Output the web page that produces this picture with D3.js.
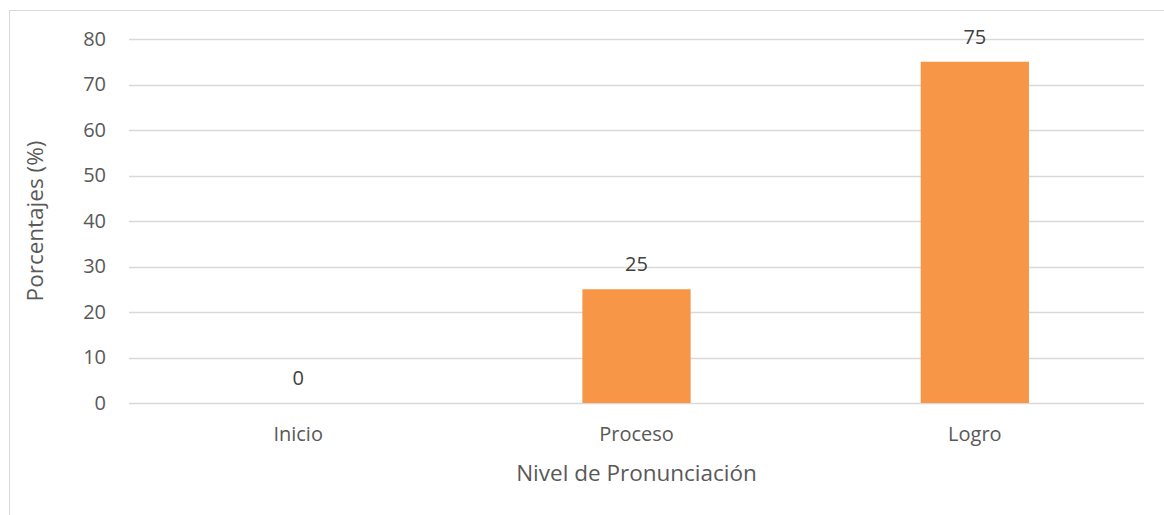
<!DOCTYPE html>
<html>
<head>
<meta charset="utf-8">
<script src="https://cdn.jsdelivr.net/npm/d3@7"></script>
<style>
  body { margin: 0; background: #fff; }
  svg { display: block; font-family: "Open Sans", sans-serif; }
</style>
</head>
<body>
<script>
const categories = ['Inicio', 'Proceso', 'Logro'];
const values = [0, 25, 75];
const yTicks = [0, 10, 20, 30, 40, 50, 60, 70, 80];

const w = 1164, h = 515;
const plotLeft = 129, plotRight = 1144, plotTop = 39, plotBottom = 403;

const svg = d3.select('body').append('svg')
  .attr('width', w)
  .attr('height', h);

// chart border
svg.append('rect')
  .attr('x', 9.5).attr('y', 10.5)
  .attr('width', w).attr('height', h)
  .attr('fill', 'none')
  .attr('stroke', '#d9d9d9');

const x = d3.scaleBand().domain(categories).range([plotLeft, plotRight]).paddingInner(0.68).paddingOuter(0.34);
const y = d3.scaleLinear().domain([0, 80]).range([plotBottom, plotTop]);

// gridlines
svg.append('g').selectAll('line')
  .data(yTicks)
  .enter().append('line')
  .attr('x1', plotLeft).attr('x2', plotRight)
  .attr('y1', d => Math.round(y(d)) + 0.5)
  .attr('y2', d => Math.round(y(d)) + 0.5)
  .attr('stroke', '#d9d9d9')
  .attr('stroke-width', 1.5);

// y axis labels
const yAxis = d3.axisLeft(y).tickValues(yTicks).tickSize(0).tickPadding(23);
const gy = svg.append('g').attr('transform', 'translate(' + plotLeft + ',0)').call(yAxis);
gy.select('.domain').remove();
gy.selectAll('text').attr('fill', '#595959').style('font-size', '20px').style('font-family', '"Open Sans", sans-serif');

// bars
svg.selectAll('rect.bar')
  .data(values)
  .enter().append('rect')
  .attr('class', 'bar')
  .attr('x', (d, i) => x(categories[i]))
  .attr('y', d => y(d))
  .attr('width', x.bandwidth())
  .attr('height', d => y(0) - y(d))
  .attr('fill', '#f79646');

// value labels
svg.selectAll('text.val')
  .data(values)
  .enter().append('text')
  .attr('class', 'val')
  .attr('x', (d, i) => x(categories[i]) + x.bandwidth() / 2)
  .attr('y', d => y(d) - 18)
  .attr('text-anchor', 'middle')
  .attr('fill', '#404040')
  .style('font-size', '20px')
  .text(d => d);

// x axis labels
const xAxis = d3.axisBottom(x).tickSize(0).tickPadding(24);
const gx = svg.append('g').attr('transform', 'translate(0,' + plotBottom + ')').call(xAxis);
gx.select('.domain').remove();
gx.selectAll('text').attr('fill', '#595959').style('font-size', '20px').style('font-family', '"Open Sans", sans-serif');

// axis titles
svg.append('text')
  .attr('x', (plotLeft + plotRight) / 2)
  .attr('y', 481)
  .attr('text-anchor', 'middle')
  .attr('fill', '#595959')
  .style('font-size', '22.5px')
  .text('Nivel de Pronunciación');

svg.append('text')
  .attr('transform', 'translate(43,' + ((plotTop + plotBottom) / 2) + ') rotate(-90)')
  .attr('text-anchor', 'middle')
  .attr('fill', '#595959')
  .style('font-size', '22.5px')
  .text('Porcentajes (%)');
</script>
</body>
</html>
